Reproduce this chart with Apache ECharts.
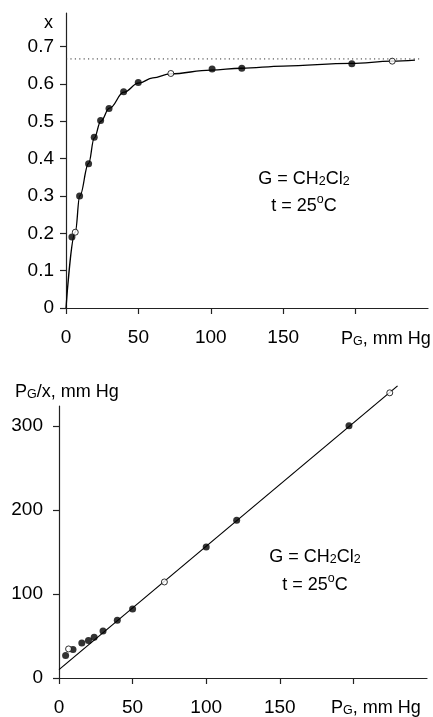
<!DOCTYPE html>
<html><head><meta charset="utf-8">
<script src="https://cdn.jsdelivr.net/npm/echarts@6/dist/echarts.min.js"></script>
<style>html,body{margin:0;padding:0;background:#fff}#c{width:433px;height:717px}</style>
</head><body><div id="c"></div>
<script>
// ---- top panel: x vs P_G ----
var topFilledP = [4.1, 9.4, 15.6, 19.5, 23.9, 29.7, 39.8, 49.9, 100.9, 121.4, 197.4];
var topFilledX = [0.19, 0.30, 0.386, 0.457, 0.502, 0.534, 0.579, 0.604, 0.640, 0.642, 0.654];
var topOpenP = [6.4, 72.4, 225.3];
var topOpenX = [0.203, 0.628, 0.661];
var curveP = [0, 6.4, 9.5, 15.6, 19.5, 24, 30, 40, 50, 60, 72, 100, 121, 150, 197, 225, 241];
var curveX = [0, 0.203, 0.30, 0.387, 0.455, 0.5, 0.535, 0.578, 0.602, 0.616, 0.627, 0.637, 0.642, 0.648, 0.655, 0.661, 0.664];
var limitP = [0, 244];
var limitX = [0.667, 0.667];
var topYTicks = [0, 0.1, 0.2, 0.3, 0.4, 0.5, 0.6, 0.7];
var xTicks = [0, 50, 100, 150, 200];
var xTickLabels = [0, 50, 100, 150];
// ---- bottom panel: P_G/x vs P_G ----
var botFilledP = [4.5, 9.5, 15.5, 20, 23.9, 29.9, 39.6, 50, 100, 120.7, 197];
var botFilledY = [26.7, 33.8, 41.7, 44.6, 48.5, 56, 68.8, 82.2, 156, 188, 300.4];
var botOpenP = [6.5, 71.6, 224.7];
var botOpenY = [34.6, 114.4, 339.7];
var fitP = [0, 230];
var fitY = [10, 348];
var botYTicks = [0, 100, 200, 300];

function zip(a, b) { return a.map(function (v, i) { return [v, b[i]]; }); }

var FONT = '"Liberation Sans", Arial, sans-serif';
var FS = 19;
var AX = '#222';
function xAxis(gi) {
  return {
    type: 'value', gridIndex: gi, min: 0, max: 250,
    axisLine: { show: true, lineStyle: { color: AX, width: 1.2 } },
    axisTick: { show: true, length: 6, lineStyle: { color: AX, width: 1.2 }, customValues: xTicks },
    axisLabel: { show: true, margin: 20, fontSize: FS, color: '#000', fontFamily: FONT, customValues: xTickLabels },
    splitLine: { show: false }
  };
}
function yAxis(gi, max, ticks, margin) {
  return {
    type: 'value', gridIndex: gi, min: 0, max: max,
    axisLine: { show: true, lineStyle: { color: AX, width: 1.2 } },
    axisTick: { show: true, length: 6, lineStyle: { color: AX, width: 1.2 }, customValues: ticks },
    axisLabel: { show: true, margin: margin, fontSize: FS, color: '#000', fontFamily: FONT, customValues: ticks },
    splitLine: { show: false }
  };
}
var filled = { symbol: 'circle', symbolSize: 7, itemStyle: { color: '#000' } };
var open = { symbol: 'circle', symbolSize: 6, itemStyle: { color: '#fff', borderColor: '#000', borderWidth: 1 } };

function sc(xi, data, st) {
  return Object.assign({ type: 'scatter', xAxisIndex: xi, yAxisIndex: xi, data: data, clip: false, z: 5, silent: true }, st);
}

var rich = {
  a: { fontSize: 18, fontFamily: FONT, color: '#000', verticalAlign: 'bottom', lineHeight: 22 },
  s: { fontSize: 12.5, fontFamily: FONT, color: '#000', verticalAlign: 'bottom', lineHeight: 12 },
  u: { fontSize: 12.5, fontFamily: FONT, color: '#000', verticalAlign: 'top', lineHeight: 12 }
};
function txt(text, x, y, align) {
  return { type: 'text', x: x, y: y, silent: true, style: { text: text, rich: rich, align: align || 'center', verticalAlign: 'middle', font: '18px ' + FONT, fill: '#000' } };
}

var option = {
  animation: false,
  backgroundColor: '#fff',
  grid: [
    { left: 66, top: 13, width: 362, height: 295, containLabel: false, outerBoundsMode: 'none' },
    { left: 59, top: 406, width: 368, height: 272, containLabel: false, outerBoundsMode: 'none' }
  ],
  xAxis: [xAxis(0), xAxis(1)],
  yAxis: [yAxis(0, 0.79, topYTicks, 12), yAxis(1, 324, botYTicks, 16)],
  series: [
    { type: 'line', xAxisIndex: 0, yAxisIndex: 0, data: zip(limitP, limitX), symbol: 'none', silent: true,
      lineStyle: { color: '#333', width: 1, type: [1.2, 3.2] }, z: 2 },
    { type: 'line', xAxisIndex: 0, yAxisIndex: 0, data: zip(curveP, curveX), symbol: 'none', silent: true,
      smooth: 0.4, smoothMonotone: 'x', lineStyle: { color: '#000', width: 1.3 }, z: 3 },
    sc(0, zip(topFilledP, topFilledX), filled),
    sc(0, zip(topOpenP, topOpenX), open),
    { type: 'line', xAxisIndex: 1, yAxisIndex: 1, data: zip(fitP, fitY), symbol: 'none', silent: true, clip: false,
      lineStyle: { color: '#000', width: 1.2 }, z: 3 },
    sc(1, zip(botFilledP, botFilledY), filled),
    sc(1, zip(botOpenP, botOpenY), open)
  ],
  graphic: [
    txt('{a|x}', 53, 21, 'right'),
    txt('{a|P}{s|G}{a|, mm Hg}', 341, 337, 'left'),
    txt('{a|G = CH}{s|2}{a|Cl}{s|2}', 304, 177),
    txt('{a|t = 25}{u|o}{a|C}', 304, 204),
    txt('{a|P}{s|G}{a|/x, mm Hg}', 15, 390, 'left'),
    txt('{a|P}{s|G}{a|, mm Hg}', 331, 706, 'left'),
    txt('{a|G = CH}{s|2}{a|Cl}{s|2}', 315, 555),
    txt('{a|t = 25}{u|o}{a|C}', 315, 583)
  ]
};
var chart = echarts.init(document.getElementById('c'), null, { renderer: 'canvas' });
chart.setOption(option);
</script></body></html>
